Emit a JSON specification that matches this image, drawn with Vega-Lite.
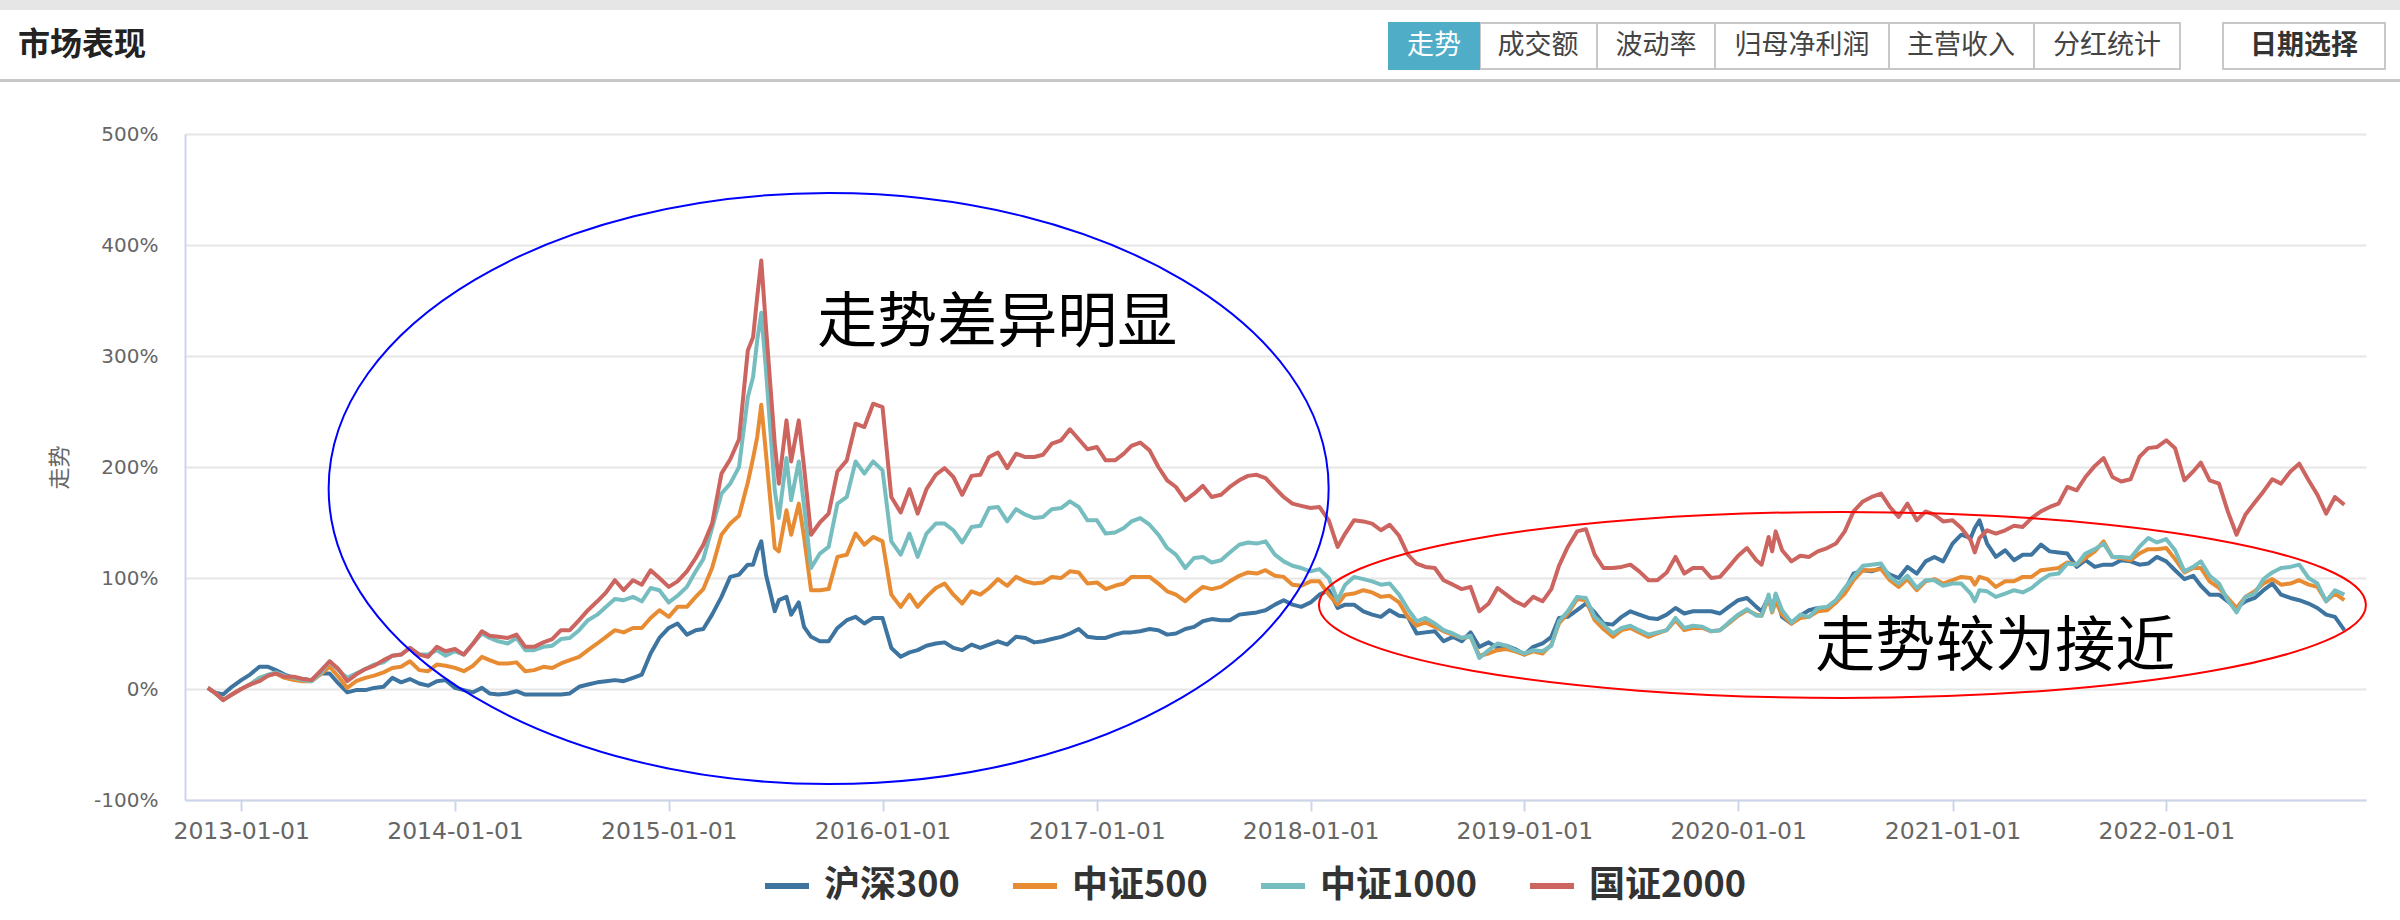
{"$schema":"https://vega.github.io/schema/vega-lite/v6.json","autosize":"none","width":2181,"height":666,"padding":{"left":185,"top":134,"right":34,"bottom":120},"background":"#ffffff","view":{"stroke":null},"resolve":{"scale":{"x":"independent","y":"independent"},"axis":{"x":"independent","y":"independent"}},"layer":[
{"encoding":{"x":{"field":"x","type":"quantitative","axis":null,"scale":{"domain":[0,2400],"range":[-185,2215],"nice":false,"zero":false}},"y":{"field":"y","type":"quantitative","axis":null,"scale":{"domain":[0,920],"range":[-134,786],"nice":false,"zero":false}}},
"layer":[
{"data":{"values":[{"x":0,"x2":2400,"y":0,"y2":10}]},"mark":{"type":"rect","fill":"#e6e6e6","clip":false},"encoding":{"x2":{"field":"x2"},"y2":{"field":"y2"}}},
{"data":{"values":[{"x":0,"x2":2400,"y":79,"y2":82}]},"mark":{"type":"rect","fill":"#c8c8c8"},"encoding":{"x2":{"field":"x2"},"y2":{"field":"y2"}}},
{"data":{"values":[{"x":1480,"x2":1597,"y":23,"y2":69},{"x":1597,"x2":1715,"y":23,"y2":69},{"x":1715,"x2":1889,"y":23,"y2":69},{"x":1889,"x2":2034,"y":23,"y2":69},{"x":2034,"x2":2180,"y":23,"y2":69},{"x":2223,"x2":2385,"y":23,"y2":69}]},"mark":{"type":"rect","fill":"#ffffff","stroke":"#c8c8c8","strokeWidth":2},"encoding":{"x2":{"field":"x2"},"y2":{"field":"y2"}}},
{"data":{"values":[{"x":1388,"x2":1480,"y":22,"y2":70}]},"mark":{"type":"rect","fill":"#4fadc8"},"encoding":{"x2":{"field":"x2"},"y2":{"field":"y2"}}},
{"data":{"values":[{"x":18,"y":45,"t":"市场表现"}]},"mark":{"type":"text","align":"left","baseline":"middle","font":"Noto Sans CJK SC","fontWeight":"bold","fontSize":32,"fill":"#222222"},"encoding":{"text":{"field":"t"}}},
{"data":{"values":[{"x":1434,"y":46,"t":"走势"}]},"mark":{"type":"text","align":"center","baseline":"middle","font":"Noto Sans CJK SC","fontSize":27,"fill":"#ffffff"},"encoding":{"text":{"field":"t"}}},
{"data":{"values":[{"x":1538,"y":46,"t":"成交额"},{"x":1656,"y":46,"t":"波动率"},{"x":1802,"y":46,"t":"归母净利润"},{"x":1961,"y":46,"t":"主营收入"},{"x":2107,"y":46,"t":"分红统计"}]},"mark":{"type":"text","align":"center","baseline":"middle","font":"Noto Sans CJK SC","fontSize":27,"fill":"#444444"},"encoding":{"text":{"field":"t"}}},
{"data":{"values":[{"x":2304,"y":46,"t":"日期选择"}]},"mark":{"type":"text","align":"center","baseline":"middle","font":"Noto Sans CJK SC","fontWeight":"bold","fontSize":27,"fill":"#333333"},"encoding":{"text":{"field":"t"}}}
]},
{"encoding":{"x":{"field":"d","type":"temporal","title":null,"scale":{"domain":[{"year":2012,"month":9,"date":27},{"year":2022,"month":12,"date":8}],"nice":false},"axis":{"orient":"bottom","values":[{"year":2013,"month":1,"date":1},{"year":2014,"month":1,"date":1},{"year":2015,"month":1,"date":1},{"year":2016,"month":1,"date":1},{"year":2017,"month":1,"date":1},{"year":2018,"month":1,"date":1},{"year":2019,"month":1,"date":1},{"year":2020,"month":1,"date":1},{"year":2021,"month":1,"date":1},{"year":2022,"month":1,"date":1}],"format":"%Y-%m-%d","grid":false,"labelFont":"DejaVu Sans","labelFontSize":23.5,"labelColor":"#666666","labelPadding":8,"labelOverlap":false,"labelFlush":false,"labelBound":false,"domainColor":"#ccd6eb","domainWidth":2,"tickColor":"#ccd6eb","tickWidth":2,"tickSize":11}},"y":{"field":"v","type":"quantitative","title":"走势","scale":{"domain":[-100,500],"nice":false,"zero":false},"axis":{"orient":"left","values":[-100,0,100,200,300,400,500],"labelExpr":"datum.value+'%'","grid":true,"gridColor":"#e6e6e6","gridWidth":2,"ticks":false,"labelFont":"DejaVu Sans","labelFontSize":20,"labelColor":"#666666","labelPadding":27,"labelOverlap":false,"labelBound":false,"domainColor":"#ccd6eb","domainWidth":2,"titleFont":"Noto Sans CJK SC","titleFontSize":22,"titleFontWeight":"normal","titleColor":"#666666","titlePadding":22}}},
"layer":[
{"data":{"values":[
{"d":"2012-11-05","沪深300":1,"中证500":1,"中证1000":1,"国证2000":1},
{"d":"2012-11-16","沪深300":-3,"中证500":-3,"中证1000":-3,"国证2000":-3},
{"d":"2012-12-01","沪深300":-5,"中证500":-10,"中证1000":-10,"国证2000":-10},
{"d":"2012-12-16","沪深300":2,"中证500":-5,"中证1000":-5,"国证2000":-5},
{"d":"2013-01-01","沪深300":8,"中证500":0,"中证1000":0,"国证2000":0},
{"d":"2013-01-16","沪深300":13,"中证500":4,"中证1000":4,"国证2000":4},
{"d":"2013-02-01","沪深300":20,"中证500":10,"中证1000":10,"国证2000":7},
{"d":"2013-02-16","沪深300":20,"中证500":12,"中证1000":13,"国证2000":12},
{"d":"2013-03-01","沪深300":17,"中证500":14,"中证1000":15,"国证2000":14},
{"d":"2013-03-16","沪深300":13,"中证500":10,"中证1000":12,"国证2000":11},
{"d":"2013-04-01","沪深300":10,"中证500":8,"中证1000":10,"国证2000":11},
{"d":"2013-04-16","沪深300":9,"中证500":7,"中证1000":8,"国证2000":9},
{"d":"2013-05-01","沪深300":8,"中证500":7,"中证1000":7,"国证2000":8},
{"d":"2013-05-16","沪深300":14,"中证500":13,"中证1000":14,"国证2000":16},
{"d":"2013-06-01","沪深300":14,"中证500":20,"中证1000":25,"国证2000":25},
{"d":"2013-06-16","沪深300":5,"中证500":11,"中证1000":17,"国证2000":18},
{"d":"2013-07-01","沪深300":-3,"中证500":1,"中证1000":10,"国证2000":7},
{"d":"2013-07-16","沪深300":-1,"中证500":7,"中证1000":14,"国证2000":13},
{"d":"2013-08-01","沪深300":-1,"中证500":10,"中证1000":18,"国证2000":18},
{"d":"2013-08-16","沪深300":1,"中证500":12,"中证1000":22,"国证2000":21},
{"d":"2013-09-01","沪深300":2,"中证500":15,"中证1000":24,"国证2000":26},
{"d":"2013-09-16","沪深300":10,"中证500":19,"中证1000":30,"国证2000":30},
{"d":"2013-10-01","沪深300":6,"中证500":20,"中证1000":31,"国证2000":31},
{"d":"2013-10-16","沪深300":9,"中证500":25,"中证1000":37,"国证2000":37},
{"d":"2013-11-01","沪深300":5,"中证500":17,"中证1000":31,"国证2000":31},
{"d":"2013-11-16","沪深300":3,"中证500":16,"中证1000":31,"国证2000":29},
{"d":"2013-12-01","沪深300":7,"中证500":22,"中证1000":35,"国证2000":38},
{"d":"2013-12-16","沪深300":8,"中证500":21,"中证1000":30,"国证2000":34},
{"d":"2014-01-01","沪深300":1,"中证500":19,"中证1000":34,"国证2000":36},
{"d":"2014-01-16","沪深300":-1,"中证500":16,"中证1000":31,"国证2000":31},
{"d":"2014-02-01","沪深300":-3,"中证500":21,"中证1000":41,"国证2000":41},
{"d":"2014-02-16","沪深300":1,"中证500":29,"中证1000":50,"国证2000":52},
{"d":"2014-03-01","沪深300":-4,"中证500":26,"中证1000":46,"国证2000":48},
{"d":"2014-03-16","沪深300":-5,"中证500":23,"中证1000":43,"国证2000":47},
{"d":"2014-04-01","沪深300":-4,"中证500":23,"中证1000":41,"国证2000":46},
{"d":"2014-04-16","沪深300":-2,"中证500":24,"中证1000":46,"国证2000":49},
{"d":"2014-05-01","沪深300":-5,"中证500":16,"中证1000":35,"国证2000":38},
{"d":"2014-05-16","沪深300":-5,"中证500":17,"中证1000":35,"国证2000":38},
{"d":"2014-06-01","沪深300":-5,"中证500":20,"中证1000":38,"国证2000":42},
{"d":"2014-06-16","沪深300":-5,"中证500":19,"中证1000":39,"国证2000":45},
{"d":"2014-07-01","沪深300":-5,"中证500":23,"中证1000":45,"国证2000":53},
{"d":"2014-07-16","沪深300":-4,"中证500":26,"中证1000":46,"国证2000":53},
{"d":"2014-08-01","沪深300":2,"中证500":29,"中证1000":53,"国证2000":62},
{"d":"2014-08-16","沪深300":4,"中证500":35,"中证1000":62,"国证2000":71},
{"d":"2014-09-01","沪深300":6,"中证500":41,"中证1000":67,"国证2000":79},
{"d":"2014-09-16","沪深300":7,"中证500":47,"中证1000":74,"国证2000":87},
{"d":"2014-10-01","沪深300":8,"中证500":53,"中证1000":81,"国证2000":98},
{"d":"2014-10-16","沪深300":7,"中证500":51,"中证1000":80,"国证2000":89},
{"d":"2014-11-01","沪深300":10,"中证500":55,"中证1000":83,"国证2000":98},
{"d":"2014-11-16","沪深300":13,"中证500":55,"中证1000":79,"国证2000":94},
{"d":"2014-12-01","沪深300":32,"中证500":64,"中证1000":91,"国证2000":107},
{"d":"2014-12-16","沪深300":46,"中证500":71,"中证1000":89,"国证2000":100},
{"d":"2015-01-01","沪深300":55,"中证500":65,"中证1000":78,"国证2000":92},
{"d":"2015-01-16","沪深300":59,"中证500":74,"中证1000":84,"国证2000":97},
{"d":"2015-02-01","沪深300":49,"中证500":74,"中证1000":92,"国证2000":106},
{"d":"2015-02-16","沪深300":53,"中证500":83,"中证1000":106,"国证2000":118},
{"d":"2015-03-01","沪深300":54,"中证500":90,"中证1000":117,"国证2000":130},
{"d":"2015-03-16","沪深300":67,"中证500":109,"中证1000":145,"国证2000":149},
{"d":"2015-04-01","沪深300":83,"中证500":139,"中证1000":176,"国证2000":194},
{"d":"2015-04-16","沪深300":101,"中证500":149,"中证1000":185,"国证2000":207},
{"d":"2015-05-01","沪深300":103,"中证500":156,"中证1000":200,"国证2000":225},
{"d":"2015-05-16","沪深300":112,"中证500":186,"中证1000":263,"国证2000":305},
{"d":"2015-05-25","沪深300":112,"中证500":208,"中证1000":281,"国证2000":317},
{"d":"2015-06-01","沪深300":124,"中证500":227,"中证1000":314,"国证2000":353},
{"d":"2015-06-08","沪深300":133,"中证500":256,"中证1000":339,"国证2000":386},
{"d":"2015-06-16","沪深300":103,"中证500":212,"中证1000":287,"国证2000":326},
{"d":"2015-07-01","沪深300":70,"中证500":127,"中证1000":179,"国证2000":221},
{"d":"2015-07-08","沪深300":80,"中证500":124,"中证1000":154,"国证2000":185},
{"d":"2015-07-21","沪深300":83,"中证500":161,"中证1000":208,"国证2000":242},
{"d":"2015-07-29","沪深300":67,"中证500":139,"中证1000":170,"国证2000":205},
{"d":"2015-08-11","沪深300":78,"中证500":167,"中证1000":205,"国证2000":242},
{"d":"2015-08-20","沪深300":56,"中证500":137,"中证1000":165,"国证2000":200},
{"d":"2015-09-01","沪深300":47,"中证500":89,"中证1000":109,"国证2000":139},
{"d":"2015-09-16","沪深300":43,"中证500":89,"中证1000":122,"国证2000":150},
{"d":"2015-10-01","沪深300":43,"中证500":90,"中证1000":128,"国证2000":158},
{"d":"2015-10-16","沪深300":55,"中证500":119,"中证1000":167,"国证2000":196},
{"d":"2015-11-01","沪深300":62,"中证500":121,"中证1000":173,"国证2000":206},
{"d":"2015-11-16","沪深300":65,"中证500":140,"中证1000":205,"国证2000":239},
{"d":"2015-12-01","沪深300":59,"中证500":130,"中证1000":194,"国证2000":236},
{"d":"2015-12-16","沪深300":64,"中证500":137,"中证1000":205,"国证2000":257},
{"d":"2016-01-01","沪深300":64,"中证500":133,"中证1000":197,"国证2000":254},
{"d":"2016-01-16","沪深300":37,"中证500":85,"中证1000":133,"国证2000":173},
{"d":"2016-02-01","沪深300":29,"中证500":74,"中证1000":121,"国证2000":159},
{"d":"2016-02-16","沪深300":33,"中证500":85,"中证1000":140,"国证2000":180},
{"d":"2016-03-01","沪深300":35,"中证500":74,"中证1000":119,"国证2000":158},
{"d":"2016-03-16","沪深300":39,"中证500":83,"中证1000":140,"国证2000":180},
{"d":"2016-04-01","沪深300":41,"中证500":91,"中证1000":149,"国证2000":193},
{"d":"2016-04-16","沪深300":42,"中证500":95,"中证1000":149,"国证2000":199},
{"d":"2016-05-01","沪深300":37,"中证500":85,"中证1000":143,"国证2000":191},
{"d":"2016-05-16","沪深300":35,"中证500":77,"中证1000":132,"国证2000":175},
{"d":"2016-06-01","沪深300":40,"中证500":88,"中证1000":146,"国证2000":192},
{"d":"2016-06-16","沪深300":37,"中证500":85,"中证1000":147,"国证2000":193},
{"d":"2016-07-01","沪深300":40,"中证500":91,"中证1000":163,"国证2000":209},
{"d":"2016-07-16","沪深300":43,"中证500":99,"中证1000":164,"国证2000":213},
{"d":"2016-08-01","沪深300":40,"中证500":93,"中证1000":151,"国证2000":199},
{"d":"2016-08-16","沪深300":47,"中证500":101,"中证1000":162,"国证2000":212},
{"d":"2016-09-01","沪深300":46,"中证500":97,"中证1000":157,"国证2000":209},
{"d":"2016-09-16","沪深300":42,"中证500":95,"中证1000":154,"国证2000":209},
{"d":"2016-10-01","沪深300":43,"中证500":96,"中证1000":155,"国证2000":211},
{"d":"2016-10-16","沪深300":45,"中证500":101,"中证1000":162,"国证2000":221},
{"d":"2016-11-01","沪深300":47,"中证500":100,"中证1000":163,"国证2000":224},
{"d":"2016-11-16","沪深300":50,"中证500":106,"中证1000":169,"国证2000":234},
{"d":"2016-12-01","沪深300":54,"中证500":105,"中证1000":164,"国证2000":225},
{"d":"2016-12-16","沪深300":47,"中证500":95,"中证1000":152,"国证2000":216},
{"d":"2017-01-01","沪深300":46,"中证500":96,"中证1000":152,"国证2000":218},
{"d":"2017-01-16","沪深300":46,"中证500":90,"中证1000":140,"国证2000":206},
{"d":"2017-02-01","沪深300":49,"中证500":93,"中证1000":141,"国证2000":206},
{"d":"2017-02-16","沪深300":51,"中证500":95,"中证1000":145,"国证2000":212},
{"d":"2017-03-01","沪深300":51,"中证500":101,"中证1000":151,"国证2000":219},
{"d":"2017-03-16","沪深300":52,"中证500":101,"中证1000":154,"国证2000":222},
{"d":"2017-04-01","沪深300":54,"中证500":101,"中证1000":148,"国证2000":215},
{"d":"2017-04-16","沪深300":53,"中证500":95,"中证1000":139,"国证2000":200},
{"d":"2017-05-01","沪深300":49,"中证500":88,"中证1000":127,"国证2000":188},
{"d":"2017-05-16","沪深300":50,"中证500":85,"中证1000":121,"国证2000":182},
{"d":"2017-06-01","沪深300":54,"中证500":79,"中证1000":109,"国证2000":170},
{"d":"2017-06-16","沪深300":56,"中证500":86,"中证1000":118,"国证2000":176},
{"d":"2017-07-01","沪深300":61,"中证500":92,"中证1000":119,"国证2000":183},
{"d":"2017-07-16","沪深300":63,"中证500":90,"中证1000":114,"国证2000":173},
{"d":"2017-08-01","沪深300":62,"中证500":92,"中证1000":116,"国证2000":175},
{"d":"2017-08-16","沪深300":62,"中证500":97,"中证1000":123,"国证2000":182},
{"d":"2017-09-01","沪深300":67,"中证500":102,"中证1000":130,"国证2000":188},
{"d":"2017-09-16","沪深300":68,"中证500":105,"中证1000":132,"国证2000":192},
{"d":"2017-10-01","沪深300":69,"中证500":104,"中证1000":131,"国证2000":193},
{"d":"2017-10-16","沪深300":71,"中证500":107,"中证1000":133,"国证2000":190},
{"d":"2017-11-01","沪深300":76,"中证500":102,"中证1000":121,"国证2000":181},
{"d":"2017-11-16","沪深300":80,"中证500":101,"中证1000":115,"国证2000":173},
{"d":"2017-12-01","沪深300":76,"中证500":94,"中证1000":111,"国证2000":167},
{"d":"2017-12-16","沪深300":74,"中证500":93,"中证1000":109,"国证2000":165},
{"d":"2018-01-01","沪深300":78,"中证500":97,"中证1000":106,"国证2000":163},
{"d":"2018-01-16","沪深300":85,"中证500":97,"中证1000":108,"国证2000":164},
{"d":"2018-02-01","沪深300":89,"中证500":85,"中证1000":100,"国证2000":152},
{"d":"2018-02-16","沪深300":73,"中证500":76,"中证1000":80,"国证2000":128},
{"d":"2018-03-01","沪深300":76,"中证500":85,"中证1000":94,"国证2000":140},
{"d":"2018-03-16","沪深300":76,"中证500":86,"中证1000":101,"国证2000":152},
{"d":"2018-04-01","沪深300":70,"中证500":89,"中证1000":99,"国证2000":151},
{"d":"2018-04-16","沪深300":67,"中证500":87,"中证1000":97,"国证2000":149},
{"d":"2018-05-01","沪深300":65,"中证500":83,"中证1000":94,"国证2000":143},
{"d":"2018-05-16","沪深300":71,"中证500":84,"中证1000":95,"国证2000":148},
{"d":"2018-06-01","沪深300":66,"中证500":78,"中证1000":85,"国证2000":138},
{"d":"2018-06-16","沪深300":65,"中证500":65,"中证1000":72,"国证2000":121},
{"d":"2018-07-01","沪深300":50,"中证500":57,"中证1000":61,"国证2000":113},
{"d":"2018-07-16","沪深300":51,"中证500":60,"中证1000":64,"国证2000":110},
{"d":"2018-08-01","沪深300":52,"中证500":56,"中证1000":59,"国证2000":109},
{"d":"2018-08-16","沪深300":43,"中证500":52,"中证1000":53,"国证2000":98},
{"d":"2018-09-01","沪深300":47,"中证500":49,"中证1000":50,"国证2000":94},
{"d":"2018-09-16","沪深300":43,"中证500":46,"中证1000":46,"国证2000":90},
{"d":"2018-10-01","沪深300":51,"中证500":47,"中证1000":48,"国证2000":92},
{"d":"2018-10-16","沪深300":38,"中证500":30,"中证1000":28,"国证2000":70},
{"d":"2018-11-01","沪深300":42,"中证500":32,"中证1000":35,"国证2000":77},
{"d":"2018-11-16","沪深300":37,"中证500":35,"中证1000":41,"国证2000":91},
{"d":"2018-12-01","沪深300":39,"中证500":36,"中证1000":39,"国证2000":85},
{"d":"2018-12-16","沪深300":36,"中证500":34,"中证1000":35,"国证2000":79},
{"d":"2019-01-01","沪深300":31,"中证500":31,"中证1000":32,"国证2000":75},
{"d":"2019-01-16","沪深300":38,"中证500":34,"中证1000":35,"国证2000":83},
{"d":"2019-02-01","沪深300":41,"中证500":32,"中证1000":34,"国证2000":79},
{"d":"2019-02-16","沪深300":47,"中证500":40,"中证1000":39,"国证2000":90},
{"d":"2019-03-01","沪深300":64,"中证500":59,"中证1000":61,"国证2000":111},
{"d":"2019-03-16","沪深300":65,"中证500":68,"中证1000":70,"国证2000":128},
{"d":"2019-04-01","沪深300":71,"中证500":81,"中证1000":83,"国证2000":142},
{"d":"2019-04-16","沪深300":77,"中证500":80,"中证1000":82,"国证2000":144},
{"d":"2019-05-01","沪深300":69,"中证500":62,"中证1000":65,"国证2000":121},
{"d":"2019-05-16","沪深300":59,"中证500":54,"中证1000":58,"国证2000":109},
{"d":"2019-06-01","沪深300":58,"中证500":47,"中证1000":50,"国证2000":109},
{"d":"2019-06-16","沪深300":65,"中证500":53,"中证1000":55,"国证2000":110},
{"d":"2019-07-01","沪深300":70,"中证500":55,"中证1000":57,"国证2000":112},
{"d":"2019-07-16","沪深300":67,"中证500":51,"中证1000":53,"国证2000":106},
{"d":"2019-08-01","沪深300":64,"中证500":47,"中证1000":49,"国证2000":98},
{"d":"2019-08-16","沪深300":63,"中证500":50,"中证1000":51,"国证2000":98},
{"d":"2019-09-01","沪深300":67,"中证500":53,"中证1000":53,"国证2000":105},
{"d":"2019-09-16","沪深300":73,"中证500":62,"中证1000":64,"国证2000":119},
{"d":"2019-10-01","沪深300":68,"中证500":53,"中证1000":55,"国证2000":104},
{"d":"2019-10-16","沪深300":70,"中证500":55,"中证1000":57,"国证2000":109},
{"d":"2019-11-01","沪深300":70,"中证500":55,"中证1000":56,"国证2000":109},
{"d":"2019-11-16","沪深300":70,"中证500":52,"中证1000":52,"国证2000":100},
{"d":"2019-12-01","沪深300":68,"中证500":53,"中证1000":53,"国证2000":101},
{"d":"2019-12-16","沪深300":74,"中证500":59,"中证1000":60,"国证2000":110},
{"d":"2020-01-01","沪深300":80,"中证500":66,"中证1000":67,"国证2000":120},
{"d":"2020-01-16","沪深300":82,"中证500":71,"中证1000":72,"国证2000":127},
{"d":"2020-02-01","沪深300":74,"中证500":67,"中证1000":66,"国证2000":116},
{"d":"2020-02-10","沪深300":70,"中证500":66,"中证1000":66,"国证2000":112},
{"d":"2020-02-22","沪深300":83,"中证500":82,"中证1000":85,"国证2000":137},
{"d":"2020-02-28","沪深300":70,"中证500":69,"中证1000":70,"国证2000":124},
{"d":"2020-03-05","沪深300":85,"中证500":79,"中证1000":86,"国证2000":142},
{"d":"2020-03-16","沪深300":65,"中证500":67,"中证1000":71,"国证2000":125},
{"d":"2020-04-01","沪深300":59,"中证500":59,"中证1000":60,"国证2000":115},
{"d":"2020-04-16","沪深300":66,"中证500":64,"中证1000":67,"国证2000":120},
{"d":"2020-05-01","沪深300":71,"中证500":65,"中证1000":65,"国证2000":119},
{"d":"2020-05-16","沪深300":73,"中证500":70,"中证1000":73,"国证2000":124},
{"d":"2020-06-01","沪深300":73,"中证500":71,"中证1000":74,"国证2000":127},
{"d":"2020-06-16","沪深300":78,"中证500":78,"中证1000":80,"国证2000":131},
{"d":"2020-07-01","沪深300":89,"中证500":86,"中证1000":91,"国证2000":142},
{"d":"2020-07-16","沪深300":104,"中证500":98,"中证1000":101,"国证2000":160},
{"d":"2020-08-01","沪深300":107,"中证500":107,"中证1000":111,"国证2000":169},
{"d":"2020-08-16","沪深300":106,"中证500":107,"中证1000":112,"国证2000":173},
{"d":"2020-09-01","沪深300":109,"中证500":108,"中证1000":113,"国证2000":176},
{"d":"2020-09-16","沪深300":103,"中证500":98,"中证1000":101,"国证2000":164},
{"d":"2020-10-01","沪深300":100,"中证500":92,"中证1000":95,"国证2000":155},
{"d":"2020-10-16","沪深300":110,"中证500":99,"中证1000":102,"国证2000":167},
{"d":"2020-11-01","沪深300":104,"中证500":89,"中证1000":91,"国证2000":152},
{"d":"2020-11-16","沪深300":115,"中证500":97,"中证1000":98,"国证2000":160},
{"d":"2020-12-01","沪深300":119,"中证500":99,"中证1000":98,"国证2000":157},
{"d":"2020-12-16","沪深300":115,"中证500":95,"中证1000":93,"国证2000":151},
{"d":"2021-01-01","沪深300":131,"中证500":98,"中证1000":95,"国证2000":152},
{"d":"2021-01-16","沪深300":139,"中证500":101,"中证1000":95,"国证2000":145},
{"d":"2021-02-01","沪深300":136,"中证500":100,"中证1000":86,"国证2000":134},
{"d":"2021-02-08","沪深300":145,"中证500":94,"中证1000":79,"国证2000":123},
{"d":"2021-02-16","沪深300":152,"中证500":101,"中证1000":89,"国证2000":136},
{"d":"2021-03-01","沪深300":131,"中证500":99,"中证1000":88,"国证2000":143},
{"d":"2021-03-16","沪深300":119,"中证500":92,"中证1000":83,"国证2000":140},
{"d":"2021-04-01","沪深300":125,"中证500":97,"中证1000":86,"国证2000":143},
{"d":"2021-04-16","沪深300":116,"中证500":97,"中证1000":89,"国证2000":147},
{"d":"2021-05-01","沪深300":121,"中证500":101,"中证1000":87,"国证2000":146},
{"d":"2021-05-16","沪深300":121,"中证500":101,"中证1000":91,"国证2000":154},
{"d":"2021-06-01","沪深300":130,"中证500":107,"中证1000":98,"国证2000":160},
{"d":"2021-06-16","沪深300":124,"中证500":108,"中证1000":103,"国证2000":164},
{"d":"2021-07-01","沪深300":123,"中证500":109,"中证1000":104,"国证2000":167},
{"d":"2021-07-16","沪深300":122,"中证500":114,"中证1000":113,"国证2000":182},
{"d":"2021-08-01","沪深300":110,"中证500":112,"中证1000":112,"国证2000":179},
{"d":"2021-08-16","沪深300":116,"中证500":118,"中证1000":122,"国证2000":191},
{"d":"2021-09-01","沪深300":110,"中证500":124,"中证1000":126,"国证2000":201},
{"d":"2021-09-16","沪深300":112,"中证500":133,"中证1000":131,"国证2000":208},
{"d":"2021-10-01","沪深300":112,"中证500":119,"中证1000":119,"国证2000":191},
{"d":"2021-10-16","沪深300":116,"中证500":118,"中证1000":119,"国证2000":187},
{"d":"2021-11-01","沪深300":115,"中证500":116,"中证1000":118,"国证2000":189},
{"d":"2021-11-16","沪深300":112,"中证500":122,"中证1000":128,"国证2000":209},
{"d":"2021-12-01","沪深300":113,"中证500":126,"中证1000":136,"国证2000":217},
{"d":"2021-12-16","沪深300":119,"中证500":126,"中证1000":132,"国证2000":218},
{"d":"2022-01-01","沪深300":115,"中证500":127,"中证1000":135,"国证2000":224},
{"d":"2022-01-16","沪深300":107,"中证500":117,"中证1000":125,"国证2000":217},
{"d":"2022-02-01","沪深300":99,"中证500":105,"中证1000":106,"国证2000":188},
{"d":"2022-02-16","沪深300":102,"中证500":109,"中证1000":110,"国证2000":196},
{"d":"2022-03-01","沪深300":93,"中证500":109,"中证1000":115,"国证2000":204},
{"d":"2022-03-16","沪深300":85,"中证500":97,"中证1000":102,"国证2000":188},
{"d":"2022-04-01","沪深300":85,"中证500":91,"中证1000":95,"国证2000":185},
{"d":"2022-04-16","沪深300":79,"中证500":82,"中证1000":80,"国证2000":160},
{"d":"2022-05-01","沪深300":73,"中证500":73,"中证1000":69,"国证2000":139},
{"d":"2022-05-16","沪深300":79,"中证500":83,"中证1000":83,"国证2000":157},
{"d":"2022-06-01","沪深300":82,"中证500":88,"中证1000":86,"国证2000":168},
{"d":"2022-06-16","沪深300":89,"中证500":95,"中证1000":99,"国证2000":178},
{"d":"2022-07-01","沪深300":95,"中证500":99,"中证1000":105,"国证2000":189},
{"d":"2022-07-16","沪深300":85,"中证500":94,"中证1000":109,"国证2000":185},
{"d":"2022-08-01","沪深300":82,"中证500":95,"中证1000":110,"国证2000":196},
{"d":"2022-08-16","沪深300":80,"中证500":98,"中证1000":112,"国证2000":203},
{"d":"2022-09-01","沪深300":77,"中证500":94,"中证1000":100,"国证2000":188},
{"d":"2022-09-16","沪深300":73,"中证500":92,"中证1000":95,"国证2000":175},
{"d":"2022-10-01","沪深300":67,"中证500":79,"中证1000":79,"国证2000":158},
{"d":"2022-10-16","沪深300":65,"中证500":86,"中证1000":89,"国证2000":173},
{"d":"2022-11-01","沪深300":53,"中证500":80,"中证1000":85,"国证2000":166}
]},"transform":[{"fold":["沪深300","中证500","中证1000","国证2000"],"as":["s","v"]}],"mark":{"type":"line","strokeWidth":4,"strokeJoin":"round"},"encoding":{"color":{"field":"s","type":"nominal","sort":null,"scale":{"domain":["沪深300","中证500","中证1000","国证2000"],"range":["#3d74a0","#e88c33","#76bdc0","#cc6460"]},"legend":{"title":null,"orient":"none","legendX":577,"legendY":727,"direction":"horizontal","columns":4,"symbolType":"stroke","symbolSize":1936,"symbolStrokeWidth":6,"labelFont":"Noto Sans CJK SC","labelFontWeight":"bold","labelFontSize":36,"labelColor":"#333333","labelOffset":12,"columnPadding":41,"labelLimit":400}}}},
{"data":{"values":[{"d":"2015-10-01","v":180.6}]},"mark":{"type":"point","shape":"M-1,0A1,0.591,0,1,1,1,0A1,0.591,0,1,1,-1,0Z","size":1000000,"filled":false,"fill":null,"stroke":"#0000ff","strokeWidth":2,"opacity":1,"clip":false}},
{"data":{"values":[{"d":"2020-06-27","v":75.7}]},"mark":{"type":"point","shape":"M-1,0A1,0.1777,0,1,1,1,0A1,0.1777,0,1,1,-1,0Z","size":1096209,"filled":false,"fill":null,"stroke":"#ff0000","strokeWidth":2,"opacity":1,"clip":false}},
{"data":{"values":[{"d":"2016-07-15","v":329,"t":"走势差异明显"},{"d":"2021-03-15","v":37,"t":"走势较为接近"}]},"mark":{"type":"text","align":"center","baseline":"middle","font":"Noto Sans CJK SC","fontSize":60,"fill":"#000000"},"encoding":{"text":{"field":"t"}}}
]}
]}
